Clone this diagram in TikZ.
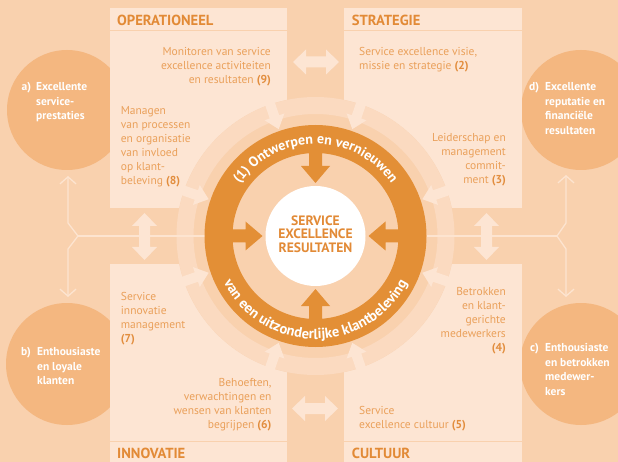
\documentclass[tikz,border=0pt]{standalone}
\usepackage{fontspec}
\setmainfont{PT Sans}
\usetikzlibrary{arrows.meta,decorations.text}
\definecolor{bg}{HTML}{F9D1AE}
\definecolor{boxc}{HTML}{FDE5D3}
\definecolor{band}{HTML}{FBDAC0}
\definecolor{circc}{HTML}{F4B780}
\definecolor{ringc}{HTML}{E38F36}
\definecolor{txt}{HTML}{EAA05A}
\definecolor{num}{HTML}{E28D3D}
\definecolor{ttl}{HTML}{E28A36}
\definecolor{linec}{HTML}{FDE4D0}
\tikzset{
  boxtxt/.style={font=\fontsize{11.5}{14}\selectfont, text=txt, inner sep=0pt},
  ttltxt/.style={font=\fontsize{14.6}{14.6}\selectfont\bfseries, text=ttl, inner sep=0pt, anchor=west},
  circtxt/.style={font=\fontsize{11.5}{14.5}\selectfont\bfseries, text=white, inner sep=0pt, align=left, anchor=north west},
  conn/.style={draw=linec, line width=1.3pt},
  connarr/.style={conn, -{Straight Barb[length=7pt,width=16pt]}},
  outcome/.style={fill=circc},
  panel/.style={fill=boxc},
}
\newcommand\dbla[4]{\fill[boxc,shift={(#1,#2)},rotate=#3] (-#4,0) -- (-#4+13,12.5) -- (-#4+13,5.5) -- (#4-13,5.5) -- (#4-13,12.5) -- (#4,0) -- (#4-13,-12.5) -- (#4-13,-5.5) -- (-#4+13,-5.5) -- (-#4+13,-12.5) -- cycle;}
\newcommand\nb[1]{\textbf{\color{num}#1}}
\begin{document}
\begin{tikzpicture}[x=1pt,y=1pt]
\useasboundingbox (0,0) rectangle (618,-462);
\fill[bg] (0,0) rectangle (618,-462);
\coordinate (C) at (315.5,-236);
% outcome circles
\fill[outcome] (67,-110) circle[radius=60];
\fill[outcome] (67,-364) circle[radius=61];
\fill[outcome] (581,-110) circle[radius=60];
\fill[outcome] (581,-364) circle[radius=61];
% panels
\fill[panel] (110,-8) rectangle (287,-208);
\fill[panel] (344,-8) rectangle (522,-208);
\fill[panel] (110,-264) rectangle (287,-462);
\fill[panel] (344,-264) rectangle (522,-462);
\draw[bg, line width=1pt] (110,-31) -- (287,-31) (344,-31) -- (522,-31) (110,-441.5) -- (287,-441.5) (344,-441.5) -- (522,-441.5);
% cut and band
\fill[bg] (C) circle[radius=139];
\fill[band, even odd rule] (C) circle[radius=139] (C) circle[radius=122];
\foreach \a in {19,71,109,161,199,251,289,341}{
  \fill[boxc, shift={(C)}, rotate=\a] (143,5) -- (126,5) -- (126,10.5) -- (113,0) -- (126,-10.5) -- (126,-5) -- (143,-5) -- cycle;
}
% connectors
\coordinate (LF) at (78,-236);
\coordinate (LU) at (68,-223);
\coordinate (LUt) at (68,-176);
\coordinate (LD) at (68,-249);
\coordinate (LDt) at (68,-297);
\coordinate (RL) at (204.5,-236);
\coordinate (RF) at (557,-236);
\coordinate (RU) at (566,-223);
\coordinate (RUt) at (566,-175);
\coordinate (RD) at (566,-249);
\coordinate (RDt) at (566,-297);
\coordinate (RR) at (426.5,-236);
\draw[conn] (LF) -- (RL);
\draw[connarr] (LF) -- (LU) -- (LUt);
\draw[connarr] (LF) -- (LD) -- (LDt);
\draw[conn] (RF) -- (RR);
\draw[connarr] (RF) -- (RU) -- (RUt);
\draw[connarr] (RF) -- (RD) -- (RDt);
% double arrows between panels
\dbla{316}{-62}{0}{23}
\dbla{315}{-408.5}{0}{23}
\dbla{144.5}{-236.5}{90}{23.5}
\dbla{486.5}{-236.5}{90}{23.5}
% dark ring
\fill[ringc, even odd rule] (C) circle[radius=111] (C) circle[radius=83];
\foreach \a in {0,90,180,270}{
  \fill[ringc, shift={(C)}, rotate=\a] (86,6.5) -- (70,6.5) -- (70,14.5) -- (53,0) -- (70,-14.5) -- (70,-6.5) -- (86,-6.5) -- cycle;
}
\fill[white] (C) circle[radius=50];
\node[font=\fontsize{13.6}{13.4}\selectfont\bfseries, text=ttl, align=center, inner sep=0pt] (res) at (315.5,-234) {SERVICE\\EXCELLENCE\\RESULTATEN};
\path[decorate, decoration={text along path, text align=center, text={|\fontsize{14}{14}\selectfont\bfseries\color{white}|(1) Ontwerpen en vernieuwen}}] (223.5,-236) arc[start angle=180, end angle=0, radius=92];
\path[decorate, decoration={text along path, text align=center, text={|\fontsize{14.5}{14.5}\selectfont\bfseries\color{white}|van een uitzonderlijke klantbeleving}}] (212.5,-236) arc[start angle=180, end angle=360, radius=103];
% titles
\node[ttltxt] (t1) at (117,-20.5) {OPERATIONEEL};
\node[ttltxt] (t2) at (351.7,-20.5) {STRATEGIE};
\node[ttltxt] (t3) at (117,-453.8) {INNOVATIE};
\node[ttltxt] (t4) at (351.7,-453.8) {CULTUUR};
% panel texts
\node[boxtxt, align=right, anchor=north east] (x9) at (271,-47.5) {Monitoren van service\\excellence activiteiten\\en resultaten \nb{(9)}};
\node[boxtxt, align=left, anchor=north west] (x8) at (120.7,-106.5) {Managen\\van processen\\en organisatie\\van invloed\\op klant-\\beleving \nb{(8)}};
\node[boxtxt, align=left, anchor=north west] (x2) at (359,-47.5) {Service excellence visie,\\missie en strategie \nb{(2)}};
\node[boxtxt, align=right, anchor=north east] (x3) at (506,-133.5) {Leiderschap en\\management\\commit-\\ment \nb{(3)}};
\node[boxtxt, align=left, anchor=north west] (x7) at (120.7,-292.5) {Service\\innovatie\\management\\\nb{(7)}};
\node[boxtxt, align=right, anchor=north east] (x6) at (271.7,-378.5) {Behoeften,\\verwachtingen en\\wensen van klanten\\begrijpen \nb{(6)}};
\node[boxtxt, align=right, anchor=north east] (x4) at (506,-287.5) {Betrokken\\en klant-\\gerichte\\medewerkers\\\nb{(4)}};
\node[boxtxt, align=left, anchor=north west] (x5) at (359,-406.5) {Service\\excellence cultuur \nb{(5)}};
% outcome texts
\node[circtxt] (la) at (21.5,-82.5) {a)};
\node[circtxt] (ta) at (36,-82.5) {Excellente\\service-\\prestaties};
\node[circtxt] (lb) at (21,-347.5) {b)};
\node[circtxt] (tb) at (37,-347.5) {Enthousiaste\\en loyale\\klanten};
\node[circtxt] (ld) at (529,-82.5) {d)};
\node[circtxt] (td) at (545,-82.5) {Excellente\\reputatie en\\financiële\\resultaten};
\node[circtxt] (lc) at (530,-343.5) {c)};
\node[circtxt] (tc) at (545,-343.5) {Enthousiaste\\en betrokken\\medewer-\\kers};
\end{tikzpicture}
\end{document}
